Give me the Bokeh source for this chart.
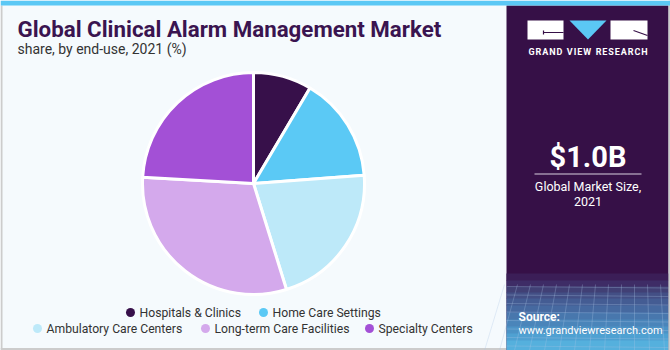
from bokeh.plotting import figure
from bokeh.models import ColumnDataSource, Range1d, Label
from bokeh.embed import file_html
from bokeh.resources import INLINE
import math

categories = ["Hospitals & Clinics", "Home Care Settings", "Ambulatory Care Centers",
              "Long-term Care Facilities", "Specialty Centers"]
shares = [8.5, 15.3, 21.4, 30.7, 24.1]
colors = ["#37104a", "#5bc9f5", "#bde9f9", "#d4a9ec", "#a350d6"]

title = "Global Clinical Alarm Management Market"
subtitle = "share, by end-use, 2021 (%)"
market_size = "$1.0B"
market_label = ["Global Market Size,", "2021"]
brand = "GRAND VIEW RESEARCH"

W, H = 670, 350
p = figure(width=W, height=H, output_backend="svg", toolbar_location=None,
           x_range=Range1d(0, W), y_range=Range1d(0, H), min_border=0)
p.axis.visible = False
p.grid.visible = False
p.outline_line_color = None
p.background_fill_color = "#f5fafd"
p.border_fill_color = "#f5fafd"

def Y(y):
    return H - y

# frame border
p.line(x=[1, 1], y=[Y(5), Y(349)], line_color="#cccccc", line_width=2)
p.line(x=[0, 506], y=[Y(348.5), Y(348.5)], line_color="#cccccc", line_width=2)

# right panel
p.quad(left=[506], right=[668], top=[Y(5)], bottom=[Y(350)], color="#361047", line_color=None)
grad = [(273, "#3b1e57"), (280, "#3e2c66"), (286, "#414075"), (292, "#434f85"),
        (298, "#445c93"), (305, "#4669a0"), (312, "#4877ad"), (319, "#4a85ba"),
        (326, "#4c93c6"), (333, "#4fa1d2"), (340, "#55b0dd")]
for i, (y0, c) in enumerate(grad):
    y1 = grad[i + 1][0] if i + 1 < len(grad) else 350
    p.quad(left=[506], right=[668], top=[Y(y0)], bottom=[Y(y1 + 0.5)], color=c, line_color=None)
# faint grid in the bottom
for k in range(14):
    x0 = 500 + k * 13
    p.line(x=[x0 + 4, x0 - 4 + (k - 6) * 2], y=[Y(284), Y(350)], line_color="#a8c4e6",
           line_alpha=0.3, line_width=1)
for k in range(8):
    yy = 286 + k * 8.5
    p.line(x=[506, 668], y=[Y(yy), Y(yy + 1.5)], line_color="#a8c4e6", line_alpha=0.3, line_width=1)
p.quad(left=[668], right=[670], top=[Y(0)], bottom=[Y(350)], color="#cccccc", line_color=None)
p.quad(left=[0], right=[W], top=[Y(0)], bottom=[Y(5)], color="#5bc8f5", line_color=None)

# logo
p.quad(left=[527], right=[563], top=[Y(20)], bottom=[Y(39)], color="white", line_color=None)
p.line(x=[543, 563], y=[Y(32), Y(32)], line_color="#361047", line_width=1.2)
p.line(x=[543, 543], y=[Y(30), Y(34)], line_color="#361047", line_width=1.2)
p.patch(x=[569, 606, 587.5], y=[Y(20), Y(20), Y(39)], color="#5bc8f5", line_color=None)
p.quad(left=[610], right=[647], top=[Y(20)], bottom=[Y(39)], color="white", line_color=None)
p.line(x=[633, 647], y=[Y(30), Y(35)], line_color="#361047", line_width=1.2)
spaced = "\u2002".join("\u200a".join(w) for w in brand.split(" "))
p.add_layout(Label(x=587.5, y=Y(51), text=spaced, text_color="white",
                   text_font="Roboto", text_font_style="bold", text_font_size="9px",
                   text_align="center", text_baseline="middle"))

p.add_layout(Label(x=587.5, y=Y(156), text=market_size, text_color="white",
                   text_font="Roboto", text_font_style="bold", text_font_size="29px",
                   text_align="center", text_baseline="middle"))
p.line(x=[534, 641], y=[Y(173.5), Y(173.5)], line_color="#d8cfe0", line_width=1.2)
p.add_layout(Label(x=587.5, y=Y(186), text=market_label[0], text_color="white",
                   text_font="Roboto", text_font_size="12.5px",
                   text_align="center", text_baseline="middle"))
p.add_layout(Label(x=587.5, y=Y(201), text=market_label[1], text_color="white",
                   text_font="Roboto", text_font_size="12.5px",
                   text_align="center", text_baseline="middle"))
p.add_layout(Label(x=518, y=Y(316), text="Source:", text_color="white",
                   text_font="Roboto", text_font_style="bold", text_font_size="12px",
                   text_align="left", text_baseline="middle"))
p.add_layout(Label(x=518, y=Y(330), text="www.grandviewresearch.com", text_color="white",
                   text_font="Roboto", text_font_size="11px",
                   text_align="left", text_baseline="middle"))

# title
p.add_layout(Label(x=17, y=Y(28), text=title, text_color="#3a1450",
                   text_font="Roboto", text_font_style="bold", text_font_size="22.3px",
                   text_align="left", text_baseline="middle"))
p.add_layout(Label(x=17, y=Y(48), text=subtitle, text_color="#333333",
                   text_font="Roboto", text_font_size="14px",
                   text_align="left", text_baseline="middle"))

# pie: clockwise from 12 o'clock
total = sum(shares)
starts, ends = [], []
acc = 0.0
for s in shares:
    a0 = math.pi / 2 - acc / total * 2 * math.pi
    acc += s
    a1 = math.pi / 2 - acc / total * 2 * math.pi
    starts.append(a0)
    ends.append(a1)
src = ColumnDataSource(dict(cat=categories, share=shares, start=starts, end=ends, color=colors))
p.wedge(x=253, y=Y(183), radius=111, start_angle="start", end_angle="end", direction="clock",
        fill_color="color", line_color="white", line_width=3, source=src)

# legend
rows = [[0, 1], [2, 3, 4]]
row_pos = [[(130, 312), (263, 312)], [(37, 328), (205, 328), (369, 328)]]
for r, idxs in enumerate(rows):
    for j, i in enumerate(idxs):
        x, y = row_pos[r][j]
        p.scatter(x=[x], y=[Y(y)], size=9, color=colors[i], line_color=None)
        p.add_layout(Label(x=x + 9, y=Y(y), text=categories[i], text_color="#333333",
                           text_font="Roboto", text_font_size="12.2px",
                           text_align="left", text_baseline="middle"))

with open("out.html", "w") as f:
    f.write(file_html(p, INLINE))
